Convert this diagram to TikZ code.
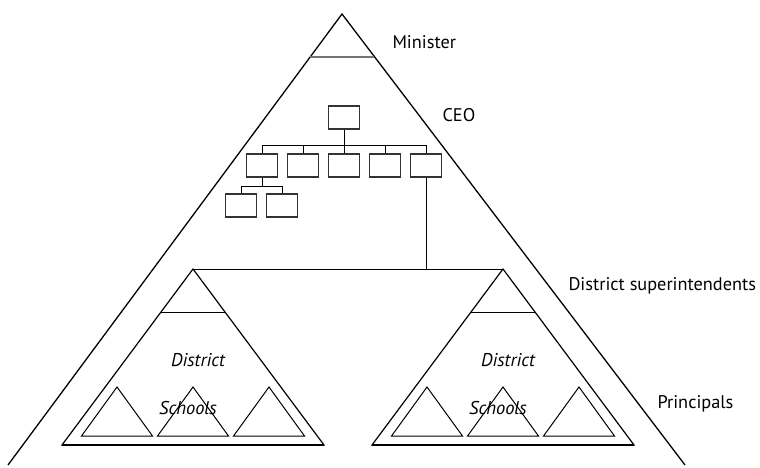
\documentclass[tikz,border=0pt]{standalone}
\usepackage{fontspec}
\setmainfont{PT Sans}

\begin{document}
\begin{tikzpicture}[x=1pt,y=-1pt,node distance=41pt,line width=1pt,
    org node/.style={draw=black!80,line width=1.1pt,minimum width=31pt,minimum height=23pt,inner sep=0pt},
    label node/.style={anchor=west,inner sep=0pt,font=\fontsize{18.3}{21}\selectfont},
    dist text/.style={inner sep=0pt,font=\fontsize{18.5}{21}\selectfont\itshape}]

                \useasboundingbox (0,0) rectangle (760,467);

                % outer triangle
                \coordinate (apex) at (342,14);
                \draw[line width=1.3pt] (8,465) -- (apex) -- (685,465);
                \draw[black!55,line width=1.3pt] (310,57) -- (374,57);

                \node[label node] (minister) at (392,42) {Minister};
                \node[label node] (ceolabel) at (442,115) {CEO};
                \node[label node] (supers) at (568,286) {District superintendents};
                \node[label node] (principals) at (657,404) {Principals};

                % org chart
                \node[org node] (ceo) at (344,117.5) {};
                \node[org node] (c3) at (344,165.5) {};
                \node[org node] (c2) [left of = c3] {};
                \node[org node] (c1) [left of = c2] {};
                \node[org node] (c4) [right of = c3] {};
                \node[org node] (c5) [right of = c4] {};
                \node[org node] (s1) at (241,205.5) {};
                \node[org node] (s2) [right of = s1] {};

                \draw (ceo.south) -- (c3.north);
                \draw (c1.north) -- ++(0,-8) -| (c5.north);
                \foreach \n in {c2,c4}
                    \draw (\n.north) -- ++(0,-8);
                \draw (c1.south) -- ++(0,9) -| (s1.north);
                \draw (c1.south) ++(0,9) -| (s2.north);

                % districts
                \coordinate (dl) at (193,269);
                \coordinate (dr) at (503,269);
                \draw (dl) -- (dr);
                \draw (c5.south) -- (c5.south |- dl);

                \foreach \cx/\nm in {193/dl,503/dr}{
                    \draw[line width=1.2pt] (\cx,269) -- (\cx+131,445) -- (\cx-131,445) -- cycle;
                    \draw[line width=1.8pt] (\cx-131,445) -- (\cx+131,445);
                    \draw (\cx-32,312) -- (\cx+32,312);
                    \foreach \dx in {-76,0,76}
                        \draw (\cx+\dx,387) -- (\cx+\dx+35.5,436) -- (\cx+\dx-35.5,436) -- cycle;
                    \node[dist text] (\nm-district) at (\cx+5,360) {District};
                    \node[dist text] (\nm-schools) at (\cx-5,408) {Schools};
                }

                ;
            \end{tikzpicture}
\end{document}
